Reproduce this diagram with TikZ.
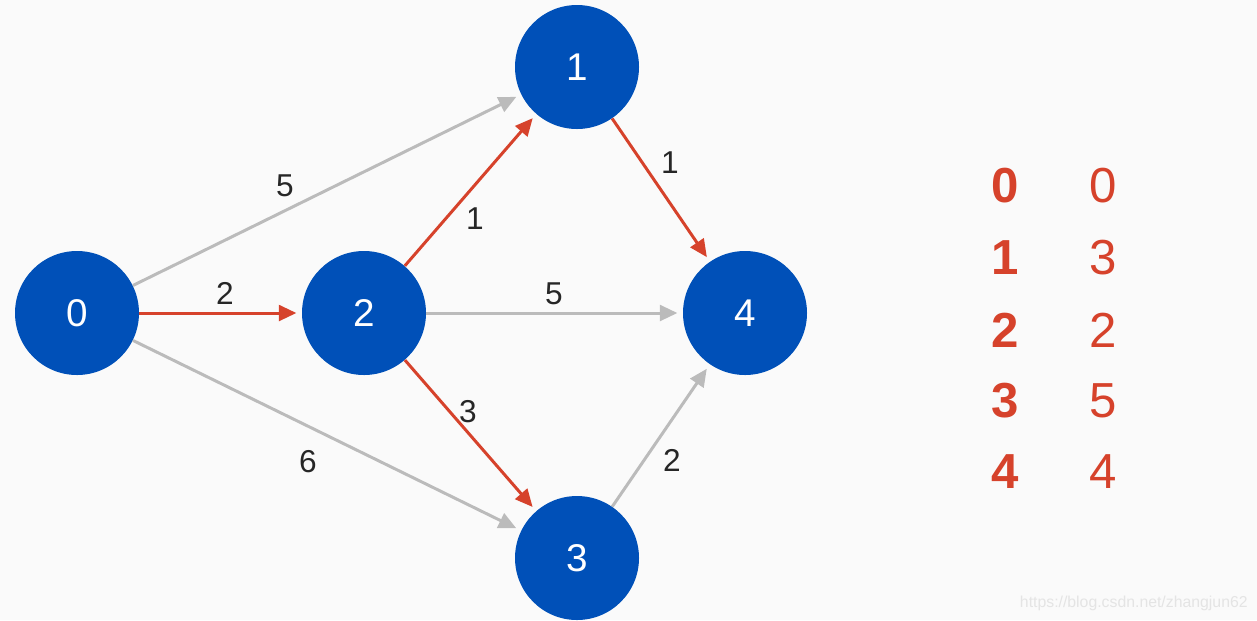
\documentclass[tikz,border=0pt]{standalone}
\usepackage{fontspec}
\setmainfont{Liberation Sans}
\usetikzlibrary{arrows.meta}
\definecolor{nodeblue}{RGB}{0,80,184}
\definecolor{pathred}{RGB}{214,66,43}
\definecolor{edgegray}{RGB}{187,187,187}
\definecolor{bggray}{RGB}{250,250,250}
\definecolor{wmgray}{RGB}{228,228,228}
\tikzset{
  vertex/.style={circle, fill=nodeblue, draw=none, minimum size=124*0.02cm, inner sep=0pt, text=white, font=\fontsize{22}{26}\selectfont},
  edgebase/.style={line width=1.7pt, -{Triangle[length=10pt,width=9pt]}, shorten >=3pt},
  grayedge/.style={edgebase, draw=edgegray},
  rededge/.style={edgebase, draw=pathred},
  wlabel/.style={text=black!85, font=\fontsize{18}{21}\selectfont, inner sep=0pt},
  tabkey/.style={text=pathred, font=\fontsize{28}{32}\selectfont\bfseries, inner sep=0pt},
  tabval/.style={text=pathred, font=\fontsize{28}{32}\selectfont, inner sep=0pt},
}
\begin{document}
\begin{tikzpicture}[x=0.02cm,y=-0.02cm]
\fill[bggray] (0,0) rectangle (1257,620);
\useasboundingbox (0,0) rectangle (1257,620);
\node[vertex] (n0) at (77,313) {0};
\node[vertex] (n2) at (364,313) {2};
\node[vertex] (n1) at (577,67) {1};
\node[vertex] (n4) at (745,313) {4};
\node[vertex] (n3) at (577,558) {3};
\draw[grayedge] (n0) -- (n1);
\draw[grayedge] (n0) -- (n3);
\draw[grayedge] (n2) -- (n4);
\draw[grayedge] (n3) -- (n4);
\draw[rededge] (n0) -- (n2);
\draw[rededge] (n2) -- (n1);
\draw[rededge] (n2) -- (n3);
\draw[rededge] (n1) -- (n4);
\node[wlabel] (l01) at (285,186) {5};
\node[wlabel] (l02) at (225,293) {2};
\node[wlabel] (l03) at (308,462) {6};
\node[wlabel] (l21) at (475,219) {1};
\node[wlabel] (l24) at (554,294) {5};
\node[wlabel] (l23) at (468,412) {3};
\node[wlabel] (l14) at (670,163) {1};
\node[wlabel] (l34) at (672,460) {2};
\node[tabkey] (k0) at (1005,186) {0};
\node[tabkey] (k1) at (1005,258) {1};
\node[tabkey] (k2) at (1005,330) {2};
\node[tabkey] (k3) at (1005,401) {3};
\node[tabkey] (k4) at (1005,472) {4};
\node[tabval] (v0) at (1103,186) {0};
\node[tabval] (v1) at (1103,258) {3};
\node[tabval] (v2) at (1103,330) {2};
\node[tabval] (v3) at (1103,401) {5};
\node[tabval] (v4) at (1103,472) {4};
\node[text=wmgray, font=\fontsize{9}{11}\selectfont, anchor=east, inner sep=0pt] (wm) at (1248,603) {https://blog.csdn.net/zhangjun62};
\end{tikzpicture}
\end{document}
